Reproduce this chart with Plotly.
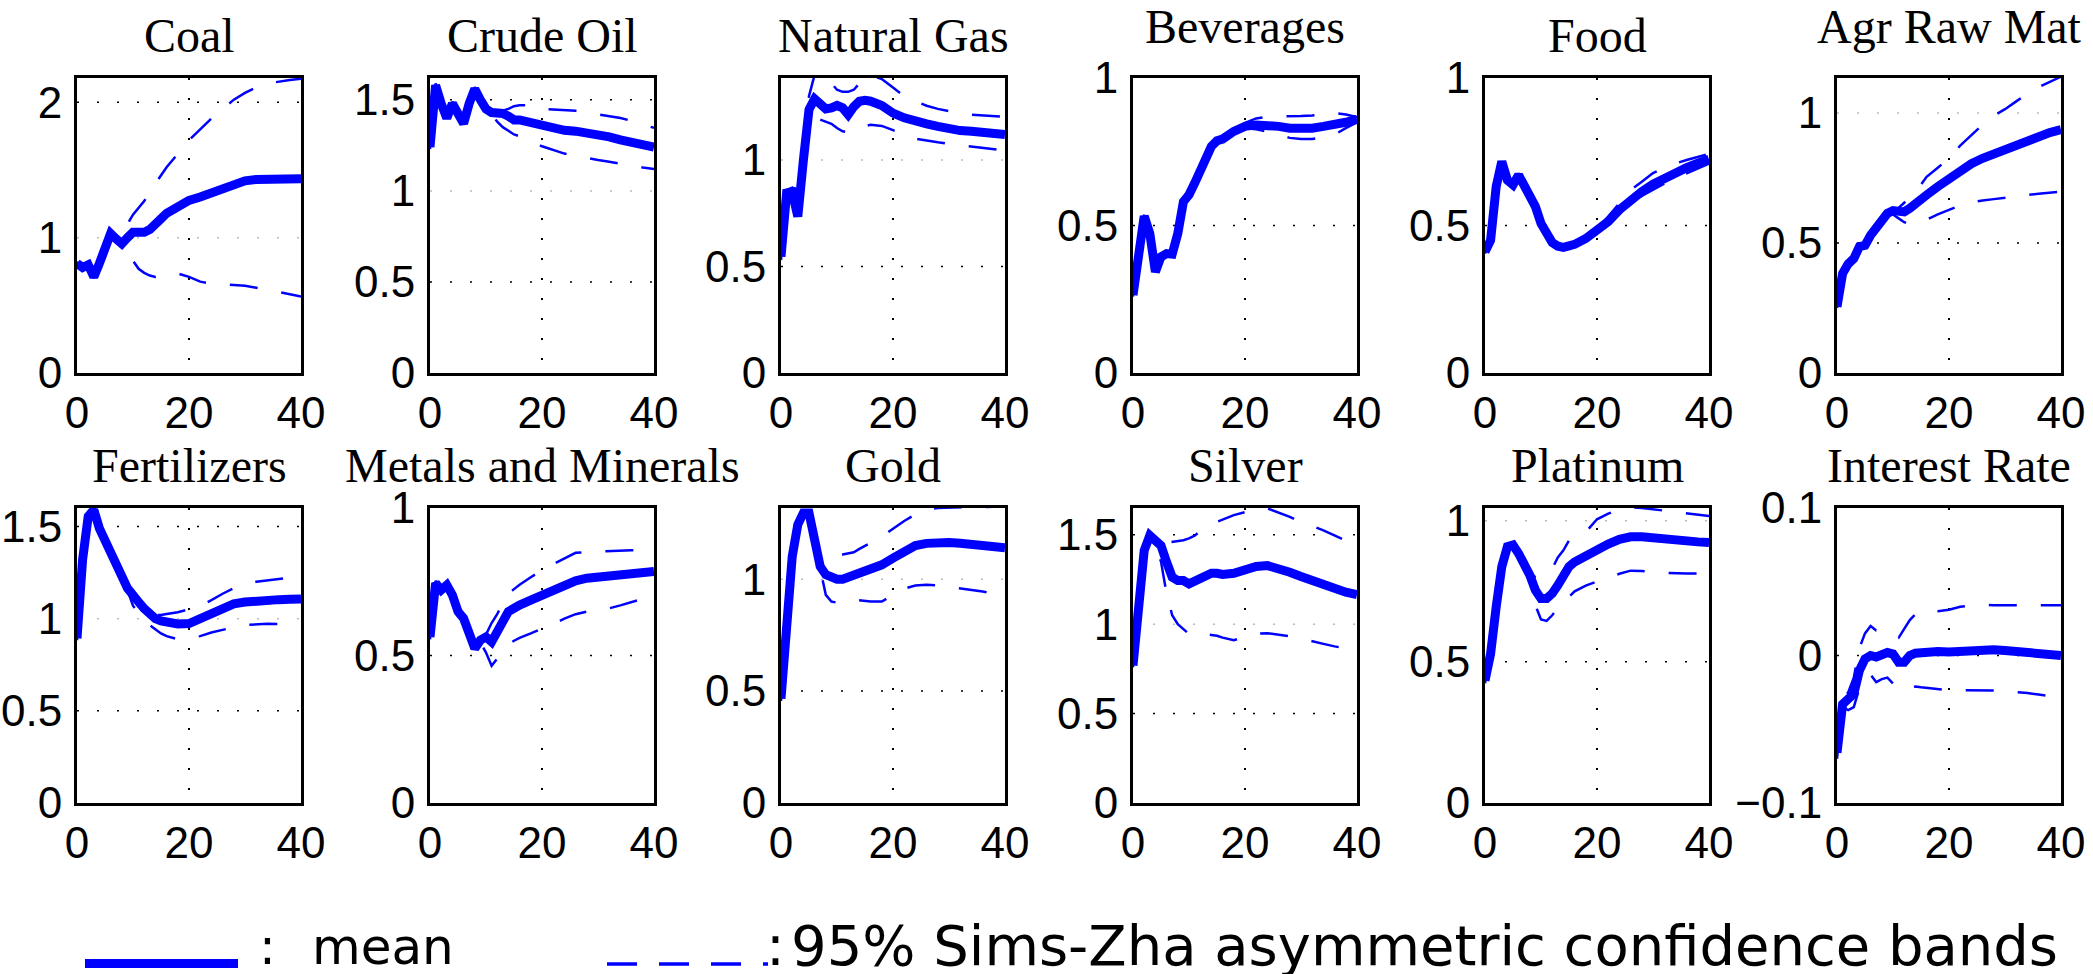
import plotly.graph_objects as go

# ---------------- data ----------------
HORIZON = [0, 1, 2, 3, 4, 5, 6, 7, 8, 9, 10, 11, 12, 13, 14, 15, 16,
           18, 20, 22, 24, 26, 28, 30, 32, 34, 36, 38, 40]

TITLES = ["Coal", "Crude Oil", "Natural Gas", "Beverages", "Food", "Agr Raw Mat",
          "Fertilizers", "Metals and Minerals", "Gold", "Silver", "Platinum", "Interest Rate"]

COAL_MEAN = [0.81, 0.78, 0.80, 0.71, 0.81, 0.93, 1.03, 0.99, 0.955, 1.0, 1.04, 1.04, 1.04, 1.06, 1.09, 1.14, 1.18,
             1.23, 1.275, 1.30, 1.33, 1.375, 1.40, 1.42, 1.43, 1.435, 1.435, 1.435, 1.435]
COAL_HI = [0.82, 0.79, 0.81, 0.72, 0.82, 0.95, 1.04, 1.0, 1.0, 1.1, 1.17, 1.22, 1.27, 1.34, 1.40, 1.46, 1.52,
           1.62, 1.72, 1.80, 1.88, 1.95, 2.02, 2.07, 2.11, 2.14, 2.155, 2.165, 2.175]
COAL_LO = [0.80, 0.77, 0.79, 0.70, 0.80, 0.91, 1.0, 0.97, 0.93, 0.88, 0.83, 0.77, 0.74, 0.72, 0.71, 0.71, 0.72,
           0.735, 0.71, 0.675, 0.66, 0.655, 0.655, 0.645, 0.63, 0.615, 0.60, 0.585, 0.566]

CRUDE_MEAN = [1.24, 1.58, 1.48, 1.40, 1.48, 1.43, 1.37, 1.48, 1.56, 1.50, 1.45, 1.43, 1.43, 1.425, 1.41, 1.39, 1.39,
              1.375, 1.355, 1.346, 1.333, 1.328, 1.32, 1.31, 1.297, 1.28, 1.27, 1.256, 1.24]
CRUDE_HI = [1.25, 1.59, 1.49, 1.41, 1.49, 1.44, 1.38, 1.49, 1.57, 1.51, 1.46, 1.44, 1.44, 1.44, 1.45, 1.465, 1.47,
            1.47, 1.45, 1.447, 1.443, 1.44, 1.43, 1.42, 1.41, 1.40, 1.385, 1.365, 1.346]
CRUDE_LO = [1.23, 1.57, 1.47, 1.39, 1.47, 1.42, 1.36, 1.47, 1.55, 1.49, 1.44, 1.42, 1.38, 1.35, 1.33, 1.31, 1.30,
            1.27, 1.245, 1.225, 1.205, 1.193, 1.18, 1.17, 1.16, 1.148, 1.137, 1.128, 1.12]

GAS_MEAN = [0.546, 0.845, 0.85, 0.735, 1.0, 1.237, 1.287, 1.256, 1.24, 1.245, 1.256, 1.245, 1.213, 1.25, 1.276, 1.28, 1.276,
            1.256, 1.22, 1.198, 1.18, 1.17, 1.158, 1.146, 1.138, 1.135, 1.13, 1.127, 1.12]
GAS_HI = [0.56, 0.86, 0.87, 0.76, 1.05, 1.30, 1.40, 1.42, 1.40, 1.36, 1.33, 1.32, 1.32, 1.33, 1.36, 1.39, 1.40,
          1.38, 1.34, 1.30, 1.275, 1.255, 1.24, 1.23, 1.218, 1.213, 1.21, 1.207, 1.203]
GAS_LO = [0.53, 0.83, 0.84, 0.72, 0.95, 1.18, 1.20, 1.19, 1.18, 1.17, 1.15, 1.135, 1.13, 1.135, 1.15, 1.16, 1.165,
          1.16, 1.14, 1.118, 1.10, 1.09, 1.083, 1.076, 1.07, 1.063, 1.056, 1.05, 1.045]

BEV_MEAN = [0.264, 0.417, 0.532, 0.473, 0.343, 0.394, 0.405, 0.403, 0.473, 0.581, 0.604, 0.643, 0.689, 0.73, 0.768, 0.787, 0.793,
            0.819, 0.836, 0.841, 0.841, 0.836, 0.83, 0.827, 0.83, 0.836, 0.841, 0.85, 0.86]
BEV_HI = [0.269, 0.422, 0.537, 0.478, 0.348, 0.399, 0.41, 0.408, 0.478, 0.586, 0.609, 0.648, 0.694, 0.735, 0.773, 0.792, 0.798,
          0.824, 0.848, 0.863, 0.868, 0.87, 0.87, 0.871, 0.873, 0.877, 0.881, 0.876, 0.868]
BEV_LO = [0.259, 0.412, 0.527, 0.468, 0.338, 0.389, 0.40, 0.398, 0.468, 0.576, 0.599, 0.638, 0.684, 0.725, 0.763, 0.782, 0.788,
          0.814, 0.83, 0.826, 0.818, 0.806, 0.797, 0.793, 0.793, 0.80, 0.808, 0.83, 0.85]

FOOD_MEAN = [0.411, 0.45, 0.632, 0.717, 0.654, 0.638, 0.671, 0.632, 0.598, 0.564, 0.507, 0.468, 0.442, 0.43, 0.426, 0.431, 0.436,
             0.456, 0.482, 0.513, 0.553, 0.589, 0.615, 0.64, 0.66, 0.68, 0.696, 0.711, 0.725]
FOOD_HI = [0.417, 0.456, 0.638, 0.723, 0.66, 0.644, 0.677, 0.638, 0.604, 0.57, 0.513, 0.474, 0.448, 0.436, 0.432, 0.437, 0.442,
           0.462, 0.49, 0.53, 0.575, 0.62, 0.648, 0.678, 0.695, 0.71, 0.722, 0.733, 0.743]
FOOD_LO = [0.405, 0.444, 0.626, 0.711, 0.648, 0.632, 0.665, 0.626, 0.592, 0.558, 0.501, 0.462, 0.436, 0.424, 0.42, 0.425, 0.43,
           0.45, 0.475, 0.505, 0.54, 0.575, 0.60, 0.622, 0.642, 0.66, 0.677, 0.695, 0.71]

AGR_MEAN = [0.255, 0.383, 0.42, 0.44, 0.486, 0.491, 0.53, 0.563, 0.595, 0.614, 0.625, 0.62, 0.62, 0.634, 0.653, 0.668, 0.685,
            0.717, 0.749, 0.78, 0.805, 0.826, 0.843, 0.861, 0.88, 0.897, 0.913, 0.925, 0.936]
AGR_HI = [0.26, 0.388, 0.425, 0.445, 0.491, 0.496, 0.535, 0.568, 0.60, 0.619, 0.63, 0.635, 0.655, 0.68, 0.70, 0.725, 0.755,
          0.79, 0.826, 0.875, 0.915, 0.955, 0.99, 1.015, 1.045, 1.075, 1.10, 1.12, 1.14]
AGR_LO = [0.25, 0.378, 0.415, 0.435, 0.481, 0.486, 0.525, 0.558, 0.59, 0.609, 0.61, 0.595, 0.58, 0.572, 0.575, 0.582, 0.59,
          0.61, 0.627, 0.645, 0.656, 0.664, 0.669, 0.675, 0.68, 0.685, 0.69, 0.694, 0.698]

FERT_MEAN = [0.893, 1.32, 1.555, 1.59, 1.49, 1.43, 1.374, 1.30, 1.23, 1.165, 1.12, 1.09, 1.054, 1.018, 1.0, 0.987, 0.98,
             0.971, 0.973, 1.0, 1.03, 1.06, 1.08, 1.09, 1.098, 1.10, 1.103, 1.105, 1.107]
FERT_HI = [0.903, 1.33, 1.565, 1.60, 1.50, 1.44, 1.384, 1.31, 1.24, 1.175, 1.13, 1.10, 1.064, 1.028, 1.02, 1.02, 1.025,
           1.035, 1.05, 1.067, 1.10, 1.135, 1.165, 1.185, 1.20, 1.207, 1.213, 1.222, 1.232]
FERT_LO = [0.883, 1.31, 1.545, 1.58, 1.48, 1.42, 1.364, 1.29, 1.22, 1.155, 1.07, 1.03, 0.99, 0.965, 0.94, 0.92, 0.905,
           0.888, 0.895, 0.905, 0.925, 0.94, 0.953, 0.965, 0.97, 0.972, 0.971, 0.966, 0.96]

METAL_MEAN = [0.563, 0.745, 0.722, 0.739, 0.705, 0.649, 0.626, 0.575, 0.524, 0.552, 0.563, 0.546, 0.575, 0.615, 0.649, 0.663, 0.671,
              0.688, 0.705, 0.722, 0.739, 0.753, 0.762, 0.765, 0.767, 0.77, 0.773, 0.779, 0.785]
METAL_HI = [0.571, 0.753, 0.73, 0.747, 0.713, 0.657, 0.634, 0.583, 0.532, 0.56, 0.571, 0.61, 0.64, 0.68, 0.71, 0.725, 0.74,
            0.765, 0.79, 0.81, 0.83, 0.848, 0.851, 0.853, 0.854, 0.856, 0.857, 0.857, 0.858]
METAL_LO = [0.555, 0.737, 0.714, 0.731, 0.697, 0.641, 0.618, 0.567, 0.516, 0.544, 0.51, 0.465, 0.49, 0.515, 0.538, 0.55, 0.56,
            0.575, 0.59, 0.607, 0.625, 0.64, 0.649, 0.655, 0.66, 0.67, 0.682, 0.692, 0.70]

GOLD_MEAN = [0.466, 0.848, 1.10, 1.244, 1.296, 1.296, 1.176, 1.057, 1.02, 1.005, 1.0, 1.0, 1.009, 1.027, 1.037, 1.042, 1.046,
             1.064, 1.094, 1.124, 1.15, 1.16, 1.164, 1.164, 1.16, 1.157, 1.151, 1.146, 1.14]
GOLD_HI = [0.476, 0.858, 1.11, 1.254, 1.306, 1.306, 1.2, 1.115, 1.108, 1.105, 1.105, 1.11, 1.115, 1.12, 1.135, 1.15, 1.162,
           1.19, 1.225, 1.26, 1.29, 1.31, 1.318, 1.32, 1.322, 1.322, 1.322, 1.325, 1.325]
GOLD_LO = [0.456, 0.838, 1.09, 1.234, 1.286, 1.286, 1.166, 1.047, 0.93, 0.90, 0.895, 0.90, 0.908, 0.908, 0.905, 0.902, 0.90,
           0.90, 0.93, 0.958, 0.972, 0.975, 0.972, 0.966, 0.96, 0.952, 0.945, 0.936, 0.927]

SILVER_MEAN = [0.769, 1.17, 1.412, 1.496, 1.468, 1.44, 1.347, 1.263, 1.244, 1.244, 1.226, 1.239, 1.259, 1.276, 1.285, 1.285, 1.278,
               1.285, 1.304, 1.323, 1.328, 1.313, 1.291, 1.267, 1.244, 1.22, 1.198, 1.179, 1.166]
SILVER_HI = [0.779, 1.18, 1.422, 1.506, 1.478, 1.47, 1.455, 1.46, 1.465, 1.47, 1.48, 1.495, 1.52, 1.545, 1.56, 1.572, 1.585,
             1.61, 1.627, 1.645, 1.648, 1.625, 1.60, 1.57, 1.55, 1.525, 1.495, 1.468, 1.44]
SILVER_LO = [0.759, 1.16, 1.402, 1.486, 1.44, 1.35, 1.17, 1.05, 1.0, 0.975, 0.945, 0.935, 0.938, 0.942, 0.94, 0.935, 0.925,
             0.91, 0.93, 0.948, 0.95, 0.943, 0.932, 0.92, 0.907, 0.89, 0.876, 0.864, 0.853]

PLAT_MEAN = [0.434, 0.529, 0.695, 0.837, 0.908, 0.914, 0.884, 0.849, 0.807, 0.754, 0.724, 0.724, 0.742, 0.771, 0.807, 0.837, 0.854,
             0.878, 0.898, 0.917, 0.934, 0.943, 0.943, 0.938, 0.935, 0.931, 0.929, 0.925, 0.923]
PLAT_HI = [0.444, 0.539, 0.705, 0.847, 0.918, 0.924, 0.894, 0.859, 0.817, 0.80, 0.80, 0.81, 0.83, 0.87, 0.895, 0.93, 0.945,
           0.96, 1.005, 1.025, 1.04, 1.048, 1.045, 1.04, 1.035, 1.03, 1.025, 1.02, 1.017]
PLAT_LO = [0.424, 0.519, 0.685, 0.827, 0.898, 0.904, 0.874, 0.839, 0.797, 0.70, 0.65, 0.645, 0.665, 0.69, 0.71, 0.73, 0.75,
           0.77, 0.785, 0.797, 0.812, 0.823, 0.822, 0.817, 0.815, 0.813, 0.813, 0.813, 0.813]

RATE_MEAN = [-0.066, -0.033, -0.0295, -0.026, -0.0102, -0.0023, 0.0, -0.001, 0.0005, 0.002, 0.001, -0.0045, -0.0045, 0.0, 0.0016, 0.002, 0.0023,
             0.0027, 0.0023, 0.003, 0.0034, 0.0039, 0.0039, 0.0034, 0.003, 0.0023, 0.0016, 0.0007, 0.0]
RATE_HI = [-0.06, -0.03, -0.025, -0.015, 0.005, 0.015, 0.02, 0.017, 0.017, 0.016, 0.013, 0.012, 0.018, 0.024, 0.028, 0.03, 0.03,
           0.03, 0.031, 0.033, 0.034, 0.0345, 0.034, 0.034, 0.034, 0.034, 0.034, 0.034, 0.034]
RATE_LO = [-0.07, -0.035, -0.037, -0.035, -0.022, -0.015, -0.013, -0.018, -0.016, -0.015, -0.019, -0.023, -0.023, -0.022, -0.021, -0.0215, -0.022,
           -0.023, -0.0235, -0.0235, -0.0234, -0.0235, -0.0237, -0.024, -0.0245, -0.0255, -0.0265, -0.0275, -0.0285]

Y_MIN = [0, 0, 0, 0, 0, 0, 0, 0, 0, 0, 0, -0.1]
Y_MAX = [2.18, 1.62, 1.385, 1.0, 1.0, 1.135, 1.6, 1.0, 1.318, 1.65, 1.045, 0.1]
Y_TICKS = [[0, 1, 2], [0, 0.5, 1, 1.5], [0, 0.5, 1], [0, 0.5, 1], [0, 0.5, 1], [0, 0.5, 1],
           [0, 0.5, 1, 1.5], [0, 0.5, 1], [0, 0.5, 1], [0, 0.5, 1, 1.5], [0, 0.5, 1], [-0.1, 0, 0.1]]
X_TICKS = [0, 20, 40]
GRAY_GRID_VALUE = 1

LEGEND_MEAN = "mean"
LEGEND_BANDS = "95% Sims-Zha asymmetric confidence bands"

SERIES = [
    (COAL_MEAN, COAL_LO, COAL_HI), (CRUDE_MEAN, CRUDE_LO, CRUDE_HI), (GAS_MEAN, GAS_LO, GAS_HI),
    (BEV_MEAN, BEV_LO, BEV_HI), (FOOD_MEAN, FOOD_LO, FOOD_HI), (AGR_MEAN, AGR_LO, AGR_HI),
    (FERT_MEAN, FERT_LO, FERT_HI), (METAL_MEAN, METAL_LO, METAL_HI), (GOLD_MEAN, GOLD_LO, GOLD_HI),
    (SILVER_MEAN, SILVER_LO, SILVER_HI), (PLAT_MEAN, PLAT_LO, PLAT_HI), (RATE_MEAN, RATE_LO, RATE_HI),
]

# ---------------- layout constants (pixels) ----------------
W, H = 2093, 974
COL_LEFT = [77, 430, 781, 1133, 1485, 1837]
PANEL_W = 224
ROW_TOP = [78, 508]
PANEL_H = 295
TITLE_Y = [36, 36, 36, 27, 36, 27, 466, 466, 466, 466, 466, 466]

BLUE = "#0000FF"
GRID_DASH = "2px,18px"
BAND_DASH = "28px,24px"
TICK_FONT = dict(family="Liberation Sans, Arial, sans-serif", size=44, color="black")
TITLE_FONT = dict(family="Liberation Serif, Times New Roman, serif", size=48, color="black")
LEG_FONT_MEAN = dict(family="DejaVu Sans, sans-serif", size=50, color="black")
LEG_FONT_BANDS = dict(family="DejaVu Sans, sans-serif", size=56, color="black")


def px_x(v):
    return v / W


def px_y(v):
    return 1 - v / H


def fmt(v):
    return f"{v:g}".replace("-", "\u2212")


fig = go.Figure()
shapes = []
annotations = []
layout = {}

for i, (mean, lo, hi) in enumerate(SERIES):
    n = i + 1
    sfx = "" if n == 1 else str(n)
    xa, ya = f"x{sfx}", f"y{sfx}"
    row, col = divmod(i, 6)
    left = COL_LEFT[col]
    top = ROW_TOP[row]

    for band in (lo, hi):
        fig.add_trace(go.Scatter(x=HORIZON, y=band, mode="lines", xaxis=xa, yaxis=ya,
                                 line=dict(color=BLUE, width=2.5, dash=BAND_DASH),
                                 showlegend=False, hoverinfo="skip"))
    fig.add_trace(go.Scatter(x=HORIZON, y=mean, mode="lines", xaxis=xa, yaxis=ya,
                             line=dict(color=BLUE, width=9),
                             showlegend=False, hoverinfo="skip"))

    axis_common = dict(showline=True, mirror=True, linecolor="black", linewidth=3,
                       ticks="", ticklen=0, zeroline=False, tickfont=TICK_FONT,
                       automargin=False)
    layout[f"xaxis{sfx}"] = dict(domain=[px_x(left), px_x(left + PANEL_W)], anchor=ya,
                                 range=[0, 40], tickmode="array", tickvals=X_TICKS,
                                 ticktext=[fmt(v) for v in X_TICKS],
                                 showgrid=True, gridcolor="black", gridwidth=1.5,
                                 griddash=GRID_DASH, ticklabelstandoff=-1, **axis_common)
    layout[f"yaxis{sfx}"] = dict(domain=[px_y(top + PANEL_H), px_y(top)], anchor=xa,
                                 range=[Y_MIN[i], Y_MAX[i]], tickmode="array",
                                 tickvals=Y_TICKS[i], ticktext=[fmt(v) for v in Y_TICKS[i]],
                                 showgrid=False, ticklabelstandoff=3, **axis_common)

    for v in Y_TICKS[i]:
        if Y_MIN[i] < v < Y_MAX[i]:
            shapes.append(dict(type="line", xref=f"{xa} domain", yref=ya, x0=0, x1=1, y0=v, y1=v,
                               layer="below",
                               line=dict(color="#BBBBBB" if v == GRAY_GRID_VALUE else "black",
                                         width=1.5, dash=GRID_DASH)))

    annotations.append(dict(text=TITLES[i], xref="paper", yref="paper",
                            x=px_x(left + PANEL_W / 2), y=px_y(TITLE_Y[i]),
                            xanchor="center", yanchor="middle", showarrow=False,
                            font=TITLE_FONT))

# legend drawn below the panels
shapes.append(dict(type="line", xref="paper", yref="paper", x0=px_x(85), x1=px_x(238),
                   y0=px_y(963.5), y1=px_y(963.5), line=dict(color=BLUE, width=9)))
shapes.append(dict(type="line", xref="paper", yref="paper", x0=px_x(607), x1=px_x(768),
                   y0=px_y(964), y1=px_y(964), line=dict(color=BLUE, width=3.5, dash="30px,22px")))
annotations.append(dict(text=":", xref="paper", yref="paper", x=px_x(267), y=px_y(947),
                        xanchor="center", yanchor="middle", showarrow=False, font=LEG_FONT_MEAN))
annotations.append(dict(text=LEGEND_MEAN, xref="paper", yref="paper", x=px_x(310), y=px_y(947),
                        xanchor="left", yanchor="middle", showarrow=False, font=LEG_FONT_MEAN))
annotations.append(dict(text=":", xref="paper", yref="paper", x=px_x(775), y=px_y(945),
                        xanchor="center", yanchor="middle", showarrow=False, font=LEG_FONT_BANDS))
annotations.append(dict(text=LEGEND_BANDS, xref="paper", yref="paper", x=px_x(789), y=px_y(945),
                        xanchor="left", yanchor="middle", showarrow=False, font=LEG_FONT_BANDS))

fig.update_layout(width=W, height=H, autosize=False,
                  margin=dict(l=0, r=0, t=0, b=0, pad=0),
                  paper_bgcolor="white", plot_bgcolor="white",
                  shapes=shapes, annotations=annotations, showlegend=False, **layout)

fig.write_html("out.html", config={"displayModeBar": False, "staticPlot": True},
               post_script="document.body.style.margin='0';document.body.style.overflow='hidden';")
